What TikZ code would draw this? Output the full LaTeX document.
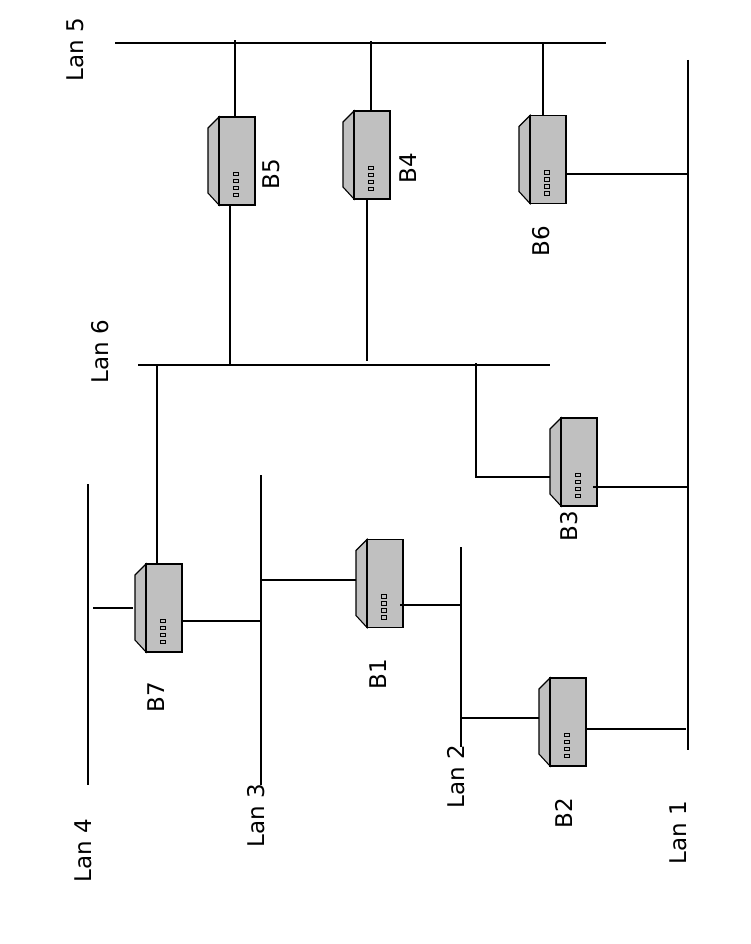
\documentclass[tikz,border=0pt]{standalone}
\usepackage{fontspec}
\setmainfont{DejaVu Sans}
\usetikzlibrary{arrows}
\definecolor{boxgray}{HTML}{C0C0C0}
\tikzset{
	bridgebox/.style = {rectangle, draw=black, fill=boxgray, line width=1.1pt,
		inner sep=0pt, outer sep=0pt, minimum width=36pt, minimum height=88pt},
	bridgeface/.style = {draw=black, fill=boxgray, line width=1.1pt},
	led/.style = {rectangle, draw=black, fill=boxgray, line width=0.9pt,
		inner sep=0pt, minimum width=5.5pt, minimum height=3.2pt},
	lan/.style = {draw=black, line width=1.1pt},
	wire/.style = {draw=black, line width=1.1pt},
	lbl/.style = {rotate=90, inner sep=0pt, font=\fontsize{23}{23}\selectfont}
}
% one bridge: name, centre x, centre y
\newcommand{\bridge}[3]{
	\path [bridgeface] (#2-18,#3-44) -- (#2-29,#3-33) -- (#2-29,#3+32) -- (#2-18,#3+44) -- cycle;
	\node [bridgebox] (#1) at (#2,#3) {};
	\foreach \i in {13,20,27,34}
		\node [led] at (#2-1,#3+\i) {};
}
\begin{document}
\begin{tikzpicture}[x=1pt,y=-1pt]
\useasboundingbox (0,0) rectangle (750,944);
% lans
\coordinate (lan1a) at (688,60);
\coordinate (lan1b) at (688,750);
\coordinate (lan2a) at (461,547);
\coordinate (lan2b) at (461,747);
\coordinate (lan3a) at (261,475);
\coordinate (lan3b) at (261,785);
\coordinate (lan4a) at (88,484);
\coordinate (lan4b) at (88,785);
\coordinate (lan5a) at (115,43);
\coordinate (lan5b) at (606,43);
\coordinate (lan6a) at (138,365);
\coordinate (lan6b) at (550,365);
\draw [lan] (lan1a) -- (lan1b);
\draw [lan] (lan2a) -- (lan2b);
\draw [lan] (lan3a) -- (lan3b);
\draw [lan] (lan4a) -- (lan4b);
\draw [lan] (lan5a) -- (lan5b);
\draw [lan] (lan6a) -- (lan6b);
% bridges
\bridge{b1}{385}{583.5}
\bridge{b2}{568}{722}
\bridge{b3}{579}{462}
\bridge{b4}{372}{155}
\bridge{b5}{237}{161}
\bridge{b6}{548}{159.5}
\bridge{b7}{164}{608}
% links
\draw [wire] ([xshift=-2]b5.north) -- ([xshift=-2,yshift=3]b5.north |- lan5a);
\draw [wire] ([xshift=-7]b5.south) -- ([xshift=-7]b5.south |- lan6a);
\draw [wire] ([xshift=-1]b4.north) -- ([xshift=-1,yshift=2]b4.north |- lan5a);
\draw [wire] ([xshift=-5]b4.south) -- ([xshift=-5,yshift=4]b4.south |- lan6a);
\draw [wire] ([xshift=-5]b6.north) -- ([xshift=-5]b6.north |- lan5a);
\draw [wire] ([yshift=-14.5]b6.east) -- ([yshift=-14.5,xshift=-1]b6.east -| lan1a);
\draw [wire] ([yshift=-15,xshift=-11]b3.west) -| ([yshift=2,xshift=-103]b3.north |- lan6a);
\draw [wire] ([yshift=-25,xshift=-4]b3.east) -- ([yshift=-25]b3.east -| lan1a);
\draw [wire] ([yshift=3.5,xshift=-11]b1.west) -- ([yshift=3.5]b1.west -| lan3a);
\draw [wire] ([yshift=-21.5,xshift=-3]b1.east) -- ([yshift=-21.5]b1.east -| lan2a);
\draw [wire] ([yshift=4,xshift=-11]b2.west) -- ([yshift=4]b2.west -| lan2a);
\draw [wire] ([yshift=-7]b2.east) -- ([yshift=-7,xshift=-2]b2.east -| lan1a);
\draw [wire] ([xshift=-7]b7.north) -- ([xshift=-7]b7.north |- lan6a);
\draw [wire] ([xshift=-13]b7.west) -- ([xshift=5]b7.west -| lan4a);
\draw [wire] ([yshift=-13]b7.east) -- ([yshift=-13,xshift=1]b7.east -| lan3a);
% labels
\node [lbl] (t1) at (678,833) {Lan 1};
\node [lbl] (t2) at (456,777) {Lan 2};
\node [lbl] (t3) at (256,816) {Lan 3};
\node [lbl] (t4) at (83,851) {Lan 4};
\node [lbl] (t5) at (75,50) {Lan 5};
\node [lbl] (t6) at (100,352) {Lan 6};
\node [lbl] (n1) at (378,674) {B1};
\node [lbl] (n2) at (564,813) {B2};
\node [lbl] (n3) at (569,526) {B3};
\node [lbl] (n4) at (408,168) {B4};
\node [lbl] (n5) at (271,174) {B5};
\node [lbl] (n6) at (541,241) {B6};
\node [lbl] (n7) at (156,697) {B7};
\end{tikzpicture}
\end{document}
